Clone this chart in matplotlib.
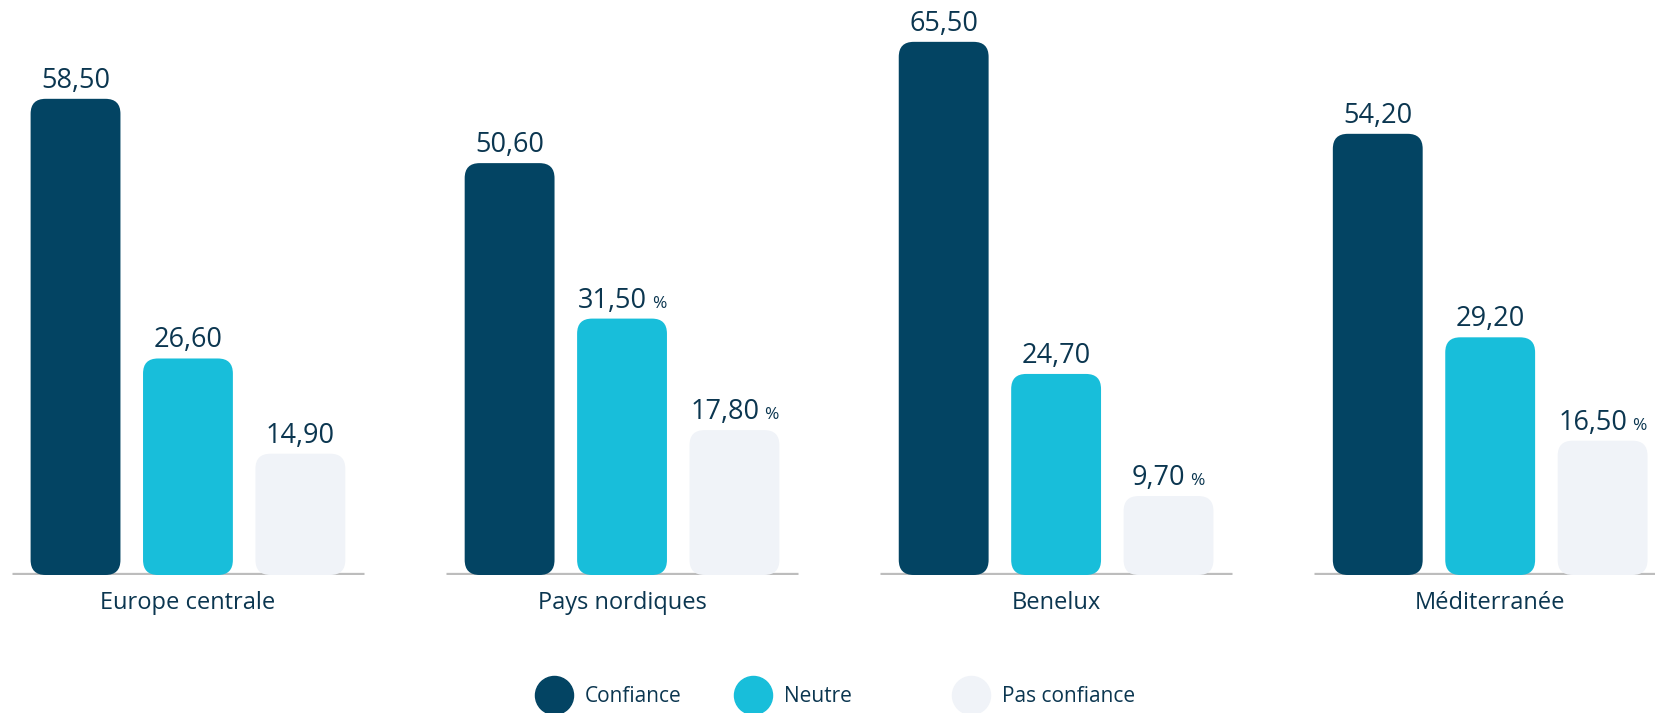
import matplotlib.pyplot as plt
from matplotlib.lines import Line2D
from matplotlib.patches import FancyBboxPatch

regions = ["Europe centrale", "Pays nordiques", "Benelux", "Méditerranée"]
series = ["Confiance", "Neutre", "Pas confiance"]
confiance = [58.5, 50.6, 65.5, 54.2]
neutre = [26.6, 31.5, 24.7, 29.2]
pas_confiance = [14.9, 17.8, 9.7, 16.5]
# which value labels carry the small "%" suffix
show_pct = [
    [False, False, False],
    [False, True, True],
    [False, False, True],
    [False, False, True],
]

COLORS = ["#034463", "#18BEDA", "#F0F3F8"]
TEXT = "#0B3650"
GRAY = "#BDBDBD"
FONT = "Open Sans"

plt.rcParams["font.family"] = [FONT, "DejaVu Sans"]

W, H, DPI = 1656, 713, 100
fig = plt.figure(figsize=(W / DPI, H / DPI), dpi=DPI)
base_px = 138
ax = fig.add_axes([0, base_px / H, 1, 1 - base_px / H])
ax.set_xlim(-0.433, 3.382)
ax.set_ylim(0, 70.64)
ax.axis("off")

offset = 0.259
width = 0.207
values = [confiance, neutre, pas_confiance]

# pixels per data unit, to keep round corners circular
x0, y0 = ax.transData.transform((0, 0))
x1, y1 = ax.transData.transform((1, 1))
aspect = (x1 - x0) / (y1 - y0)
radius_px = 15
rs = radius_px / (x1 - x0)

for i in range(len(regions)):
    ax.plot([i - 0.406, i + 0.406], [0, 0], color=GRAY, lw=3.8,
            solid_capstyle="butt", zorder=1)

labels = []
for j, vals in enumerate(values):
    xs = [i + (j - 1) * offset for i in range(len(regions))]
    bars = ax.bar(xs, vals, width=width, color=COLORS[j])
    for k, rect in enumerate(bars.patches):
        rect.remove()
        patch = FancyBboxPatch(
            (rect.get_x(), rect.get_y()), rect.get_width(), rect.get_height(),
            boxstyle=f"round,pad=0,rounding_size={rs}",
            mutation_aspect=aspect,
            facecolor=COLORS[j], edgecolor="none", zorder=2,
        )
        ax.add_patch(patch)
        text = f"{vals[k]:.2f}".replace(".", ",")
        t = ax.annotate(text, (xs[k], vals[k]), xytext=(0, 11),
                        textcoords="offset pixels", ha="center", va="baseline",
                        fontsize=19.5, color=TEXT)
        p = None
        if show_pct[k][j]:
            p = ax.annotate("%", (xs[k], vals[k]), xytext=(0, 11),
                            textcoords="offset pixels", ha="left", va="baseline",
                            fontsize=12.5, color=TEXT)
        labels.append((t, p))

for i, name in enumerate(regions):
    ax.annotate(name, (i, 0), xytext=(0, -34), textcoords="offset pixels",
                ha="center", va="baseline", fontsize=17, color=TEXT)

# center number + "%" together over the bar
fig.canvas.draw()
renderer = fig.canvas.get_renderer()
gap = 5
for t, p in labels:
    if p is None:
        continue
    wn = t.get_window_extent(renderer).width
    wp = p.get_window_extent(renderer).width
    total = wn + gap + wp
    t.set_position((-(gap + wp) / 2, 11))
    p.set_position((-total / 2 + wn + gap, 11))

handles = [
    Line2D([], [], marker="o", linestyle="", markersize=27.4,
           markerfacecolor=c, markeredgecolor=c)
    for c in COLORS
]
# wider gap after "Neutre" as in the original layout
legend_labels = [series[0], series[1] + "\u2007" * 4, series[2]]
leg = fig.legend(handles, legend_labels, loc="center", ncol=3,
                 bbox_to_anchor=(835 / W, 16 / H), frameon=False,
                 fontsize=15, handlelength=1.83, handletextpad=0.58,
                 columnspacing=2.5, borderpad=0)
for txt in leg.get_texts():
    txt.set_color(TEXT)

fig.savefig("out.png", dpi=DPI)
